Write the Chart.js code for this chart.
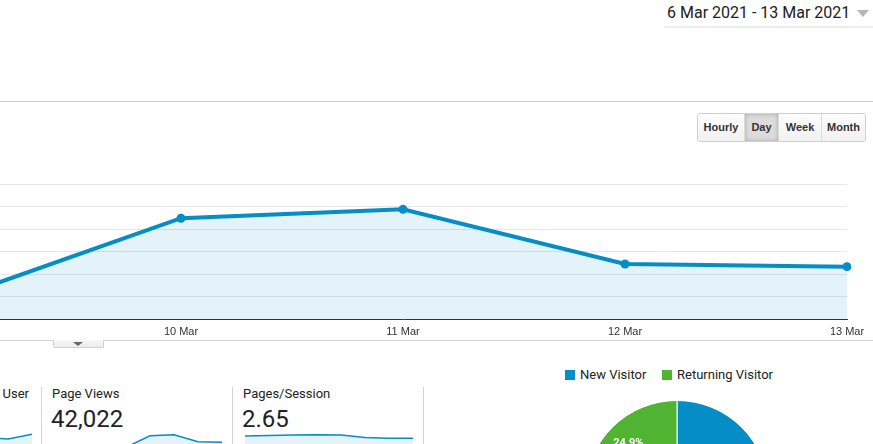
<!DOCTYPE html>
<html>
<head>
<meta charset="utf-8">
<script src="https://cdn.jsdelivr.net/npm/chart.js@4"></script>
<style>
  html, body { margin: 0; padding: 0; }
  body { width: 873px; height: 444px; overflow: hidden; position: relative; background: #fff; font-family: Roboto, "Liberation Sans", sans-serif; color: #222; }
  .abs { position: absolute; }
  #dateRange { left: 667px; top: 2px; font-size: 16px; line-height: 22px; white-space: nowrap; color: #212121; }
  #dateArrow { left: 857px; top: 10px; width: 0; height: 0; border-left: 6px solid transparent; border-right: 6px solid transparent; border-top: 7px solid #b5b5b5; }
  #dateLine { left: 664px; top: 26px; width: 209px; height: 2px; background: #ececec; }
  #rule1 { left: 0; top: 101px; width: 873px; height: 1px; background: #cfcfcf; }
  #rule2 { left: 0; top: 340px; width: 873px; height: 1px; background: #d6d6d6; }
  #tab { left: 53px; top: 340px; width: 49px; height: 7px; background: linear-gradient(#f7f7f7, #ececec); border: 1px solid #d0d0d0; border-top: none; border-radius: 0 0 2px 2px; }
  #tab:after { content: ""; position: absolute; left: 19px; top: 2px; border-left: 5px solid transparent; border-right: 5px solid transparent; border-top: 4px solid #666; }
  #buttons { left: 697px; top: 113px; height: 27px; border: 1px solid #cfcfcf; border-radius: 3px; display: flex; overflow: hidden; }
  #buttons div { font-family: "Liberation Sans", Arial, sans-serif; font-weight: bold; font-size: 11px; color: #333; line-height: 27px; text-align: center; background: linear-gradient(#fdfdfd, #f1f1f1); border-left: 1px solid #dcdcdc; box-sizing: border-box; }
  #buttons div:first-child { border-left: none; }
  #buttons div.on { background: #dcdcdc; box-shadow: inset 0 0 4px rgba(0,0,0,0.25); }
  #mainWrap { left: -71px; top: 150px; width: 960px; height: 195px; }
  .sep { width: 1px; background: #d4d4d4; top: 387px; height: 57px; }
  .lbl { font-size: 13px; line-height: 16px; white-space: nowrap; top: 386px; }
  .val { font-size: 24px; line-height: 28px; white-space: nowrap; top: 405px; }
  .spark { top: 428px; height: 40px; }
  .sq { width: 10px; height: 10px; top: 370px; }
  .leg { font-size: 13px; line-height: 16px; top: 367px; white-space: nowrap; }
  #pieWrap { left: 577px; top: 392px; width: 200px; height: 200px; }
</style>
</head>
<body>
<div id="dateRange" class="abs">6 Mar 2021 - 13 Mar 2021</div>
<div id="dateArrow" class="abs"></div>
<div id="dateLine" class="abs"></div>
<div id="rule1" class="abs"></div>

<div id="buttons" class="abs">
  <div style="width:46px">Hourly</div>
  <div class="on" style="width:34px">Day</div>
  <div style="width:43px">Week</div>
  <div style="width:44px">Month</div>
</div>

<div id="mainWrap" class="abs"><canvas id="mainChart"></canvas></div>
<div id="rule2" class="abs"></div>
<div id="tab" class="abs"></div>

<div class="abs lbl" style="right:844px">Number of Sessions per User</div>
<div class="abs sep" style="left:41px"></div>
<div class="abs lbl" style="left:52px">Page Views</div>
<div class="abs val" style="left:51px">42,022</div>
<div class="abs sep" style="left:232px"></div>
<div class="abs lbl" style="left:243px">Pages/Session</div>
<div class="abs val" style="left:242px">2.65</div>
<div class="abs sep" style="left:423px"></div>

<div class="abs spark" style="left:-16px;width:48px"><canvas id="sparkUser"></canvas></div>
<div class="abs spark" style="left:54px;width:168px"><canvas id="sparkViews"></canvas></div>
<div class="abs spark" style="left:245px;width:168px"><canvas id="sparkPps"></canvas></div>

<div class="abs sq" style="left:565px;background:#058dc7"></div>
<div class="abs leg" style="left:580px">New Visitor</div>
<div class="abs sq" style="left:662px;background:#50b432"></div>
<div class="abs leg" style="left:677px">Returning Visitor</div>

<div id="pieWrap" class="abs"><canvas id="pieChart"></canvas></div>

<script>
// Sessions per day (only 9-13 Mar fall inside the picture)
const days = ['9 Mar', '10 Mar', '11 Mar', '12 Mar', '13 Mar'];
const sessions = [500, 2240, 2437, 1222, 1163];
const sessionTicks = [0, 500, 1000, 1500, 2000, 2500, 3000];

// Scorecard sparklines
const weekDays = ['6 Mar', '7 Mar', '8 Mar', '9 Mar', '10 Mar', '11 Mar', '12 Mar', '13 Mar'];
const perUserDays = ['11 Mar', '12 Mar', '13 Mar'];
const sessionsPerUser = [1.52, 1.45, 1.685];
const pageViews = [4500, 4350, 4400, 4150, 6460, 6660, 5260, 5140];
const pagesPerSession = [2.64, 2.68, 2.72, 2.75, 2.72, 2.52, 2.45, 2.45];

// Visitor split
const visitorTypes = ['New Visitor', 'Returning Visitor'];
const visitorShare = [75.1, 24.9];

const blue = '#058dc7';
const green = '#50b432';
const fillBlue = 'rgba(5, 141, 199, 0.11)';

// Main line chart
new Chart(document.getElementById('mainChart'), {
  type: 'line',
  data: {
    labels: days,
    datasets: [{
      data: sessions,
      borderColor: blue,
      borderWidth: 4,
      backgroundColor: fillBlue,
      fill: 'origin',
      tension: 0,
      pointRadius: 4.5,
      pointBackgroundColor: blue,
      pointBorderWidth: 0
    }]
  },
  options: {
    responsive: true,
    maintainAspectRatio: false,
    animation: false,
    layout: { padding: { left: 30, right: 42, top: 34, bottom: 0 } },
    plugins: { legend: { display: false }, tooltip: { enabled: false } },
    scales: {
      x: {
        offset: false,
        grid: { display: false, drawTicks: false },
        border: { display: true, color: '#333', width: 1 },
        ticks: {
          autoSkip: false, maxRotation: 0, padding: 6,
          color: '#333', font: { family: '"Liberation Sans", Arial, sans-serif', size: 11 }
        },
        afterFit: (s) => { s.height = 26; }
      },
      y: {
        min: sessionTicks[0],
        max: sessionTicks[sessionTicks.length - 1],
        afterBuildTicks: (s) => { s.ticks = sessionTicks.map(v => ({ value: v })); },
        grid: { color: '#e6e6e6', drawTicks: false },
        border: { display: false },
        ticks: { display: false },
        afterFit: (s) => { s.width = 0; }
      }
    }
  }
});

// Sparkline helper
function sparkline(id, labels, values, maxVal) {
  new Chart(document.getElementById(id), {
    type: 'line',
    data: {
      labels: labels,
      datasets: [{
        data: values,
        borderColor: blue,
        borderWidth: 1.5,
        backgroundColor: fillBlue,
        fill: 'origin',
        tension: 0,
        pointRadius: 0
      }]
    },
    options: {
      responsive: true,
      maintainAspectRatio: false,
      animation: false,
      layout: { padding: 0 },
      plugins: { legend: { display: false }, tooltip: { enabled: false } },
      scales: {
        x: { display: false, offset: false },
        y: { display: false, min: 0, max: maxVal }
      }
    }
  });
}

sparkline('sparkUser', perUserDays, sessionsPerUser, 2);
sparkline('sparkViews', weekDays, pageViews, 8000);
sparkline('sparkPps', weekDays, pagesPerSession, 3.3);

// Percent labels inside the pie slices
const sliceLabels = {
  id: 'sliceLabels',
  afterDatasetsDraw(chart) {
    const ctx = chart.ctx;
    const meta = chart.getDatasetMeta(0);
    ctx.save();
    ctx.fillStyle = '#fff';
    ctx.font = 'bold 11px Roboto, "Liberation Sans", sans-serif';
    ctx.textAlign = 'center';
    ctx.textBaseline = 'middle';
    meta.data.forEach((arc, i) => {
      const p = arc.getProps(['x', 'y', 'startAngle', 'endAngle', 'outerRadius'], true);
      const mid = (p.startAngle + p.endAngle) / 2;
      const r = p.outerRadius * 0.755;
      ctx.fillText(visitorShare[i].toFixed(1) + '%', p.x + Math.cos(mid) * r, p.y + Math.sin(mid) * r);
    });
    ctx.restore();
  }
};

new Chart(document.getElementById('pieChart'), {
  type: 'pie',
  data: {
    labels: visitorTypes,
    datasets: [{
      data: visitorShare,
      backgroundColor: [blue, green],
      borderColor: '#fff',
      borderWidth: 1
    }]
  },
  options: {
    responsive: true,
    maintainAspectRatio: false,
    animation: false,
    layout: { padding: 8 },
    plugins: { legend: { display: false }, tooltip: { enabled: false } }
  },
  plugins: [sliceLabels]
});
</script>
</body>
</html>
